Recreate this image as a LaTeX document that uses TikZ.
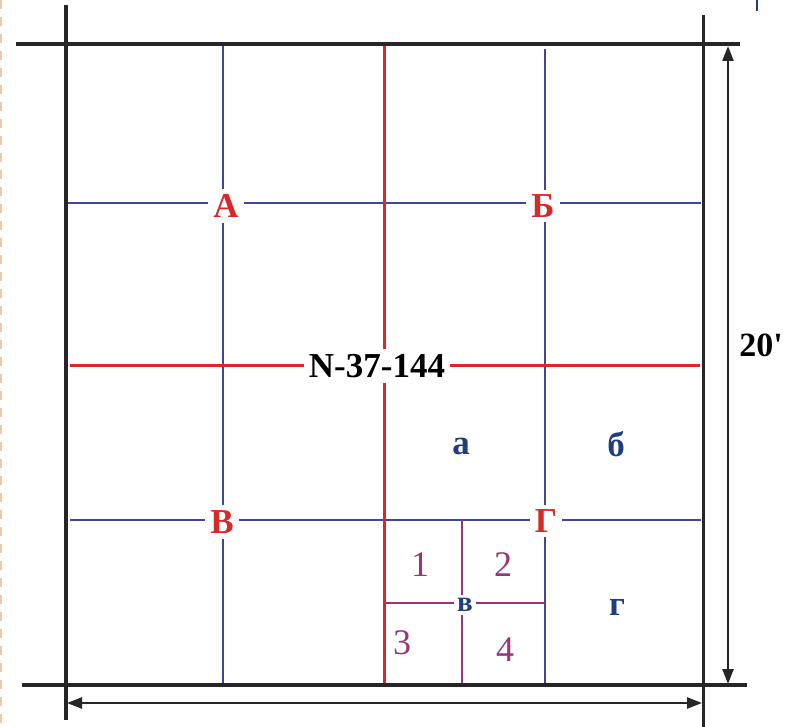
\documentclass[tikz,border=0pt]{standalone}
\usepackage{fontspec}
\setmainfont{Liberation Serif}
\usetikzlibrary{arrows.meta}
\definecolor{mapred}{RGB}{214,42,42}
\definecolor{mapblue}{RGB}{62,72,150}
\definecolor{mapnavy}{RGB}{32,62,125}
\definecolor{mappurple}{RGB}{152,52,122}
\definecolor{mapedge}{RGB}{238,200,170}
\begin{document}
\begin{tikzpicture}[x=1pt,y=-1pt,>={Triangle[length=15pt,width=11pt]},
    frame/.style={line width=3.4pt,black!85},
    redline/.style={line width=3pt,mapred},
    blueline/.style={line width=2pt,mapblue},
    subline/.style={line width=2pt,mappurple},
    dim/.style={line width=2.4pt,black!85},
    sheet/.style={fill=white,inner sep=5pt,font=\fontsize{35}{38}\selectfont\bfseries},
    quad/.style={inner sep=2pt,text=mapnavy,font=\fontsize{35}{38}\selectfont\bfseries},
    cell/.style={inner sep=2pt,text=mappurple,font=\fontsize{36}{38}\selectfont}]
  \useasboundingbox (0,0) rectangle (786,727);
  % page edge marks
  \draw[mapedge,line width=2pt,dash pattern=on 9pt off 8pt] (1,0) -- (1,727);
  \draw[mapnavy,line width=1.6pt] (757,0) -- (757,11);
  % grid of the sheet
  \draw[blueline] (223,44) -- (223,685);
  \draw[blueline] (545,49) -- (545,685);
  \draw[blueline] (68,203) -- (701,203);
  \draw[blueline] (70,520) -- (701,520);
  \draw[subline] (462,520) -- (462,685);
  \draw[subline] (384,603) -- (545,603);
  \draw[redline] (384,44) -- (384,685);
  \draw[redline] (70,365) -- (700,365);
  % frame
  \draw[frame] (16,44) -- (740,44);
  \draw[frame] (22,685) -- (747,685);
  \draw[frame] (66,5) -- (66,720);
  \draw[frame] (703.5,15) -- (703.5,727);
  % labels
  \node[sheet] (nom) at (377,366) {N-37-144};
  \node[sheet,text=mapred] (sA) at (226,206) {А};
  \node[sheet,text=mapred] (sB) at (543,206) {Б};
  \node[sheet,text=mapred] (sV) at (222,522) {В};
  \node[sheet,text=mapred] (sG) at (546,521) {Г};
  \node[quad] (qa) at (461,446) {а};
  \node[quad] (qb) at (616,444) {б};
  \node[quad,fill=white,inner sep=3pt,font=\fontsize{29}{30}\selectfont\bfseries] (qv) at (465,605) {в};
  \node[quad] (qg) at (617,607) {г};
  \node[cell] (c1) at (420,565) {1};
  \node[cell] (c2) at (503,565) {2};
  \node[cell] (c3) at (402,643) {3};
  \node[cell] (c4) at (505,650) {4};
  % dimensions
  \coordinate (vtop) at (728,46);
  \coordinate (vbot) at (728,684);
  \coordinate (hlft) at (67,703);
  \coordinate (hrgt) at (702,703);
  \draw[dim,<->] (vtop) -- (vbot);
  \draw[dim,<->] (hlft) -- (hrgt);
  \node[font=\fontsize{34}{38}\selectfont\bfseries] (size) at (761,345) {20\textquotesingle};
\end{tikzpicture}
\end{document}
